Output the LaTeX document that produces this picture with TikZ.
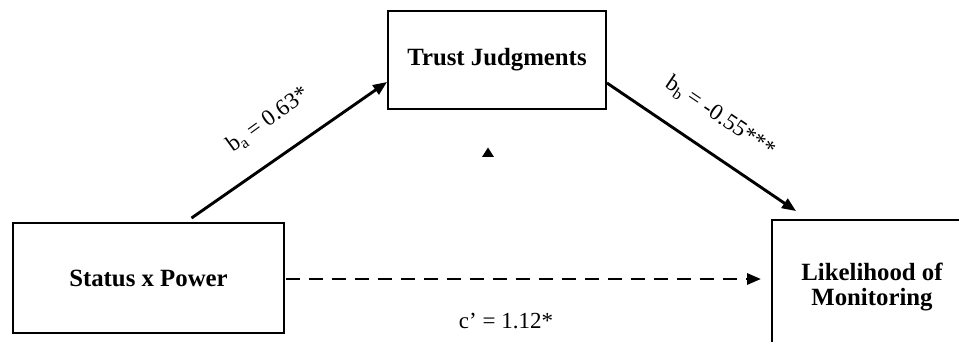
\documentclass[tikz,border=0pt]{standalone}
\usepackage{fontspec}
\setmainfont{Liberation Serif}
\usetikzlibrary{arrows.meta,calc}
\tikzset{
  box/.style={draw=black, line width=1.9pt, rectangle, inner sep=0pt, font=\fontsize{24.8}{26}\selectfont\bfseries, align=center},
  lbl/.style={inner sep=0pt, font=\fontsize{23}{25}\selectfont},
  conn/.style={line width=2.9pt, -{Triangle[length=14pt,width=11pt]}},
  dconn/.style={conn, dash pattern=on 14pt off 9pt},
}
\begin{document}
\begin{tikzpicture}[x=1pt,y=-1pt]
\useasboundingbox (0,0) rectangle (959,342);
\clip (0,0) rectangle (959,342);
\fill[white] (0,0) rectangle (959,342);
\node[box, minimum width=271pt, minimum height=110pt] (sp) at (148.5,278) {Status x Power};
\node[box, minimum width=218pt, minimum height=98pt] (tj) at (497,60) {Trust Judgments};
\node[box, minimum width=200pt, minimum height=128pt, text depth=0pt] (lm) at (872,284) {Likelihood of\\[-1pt]Monitoring};
\draw[conn] ($(sp.north)+(43,-4)$) -- ($(tj.west)+(0,22)$);
\draw[conn] ($(tj.east)+(0,23)$) -- ($(lm.north west)+(25,-8)$);
\draw[dconn] ($(sp.east)+(1,1)$) -- ($(lm.west)+(-10,-5)$);
\node[lbl, rotate=36] (la) at (268,120) {b\textsubscript{a} = 0.63*};
\node[lbl, rotate=-34] (lb) at (720,117) {b\textsubscript{b} = -0.55***};
\node[lbl] (lc) at (506,321) {c’ = 1.12*};
\fill[black] (488,147.5) -- (494,157) -- (482,157) -- cycle;
\end{tikzpicture}
\end{document}
